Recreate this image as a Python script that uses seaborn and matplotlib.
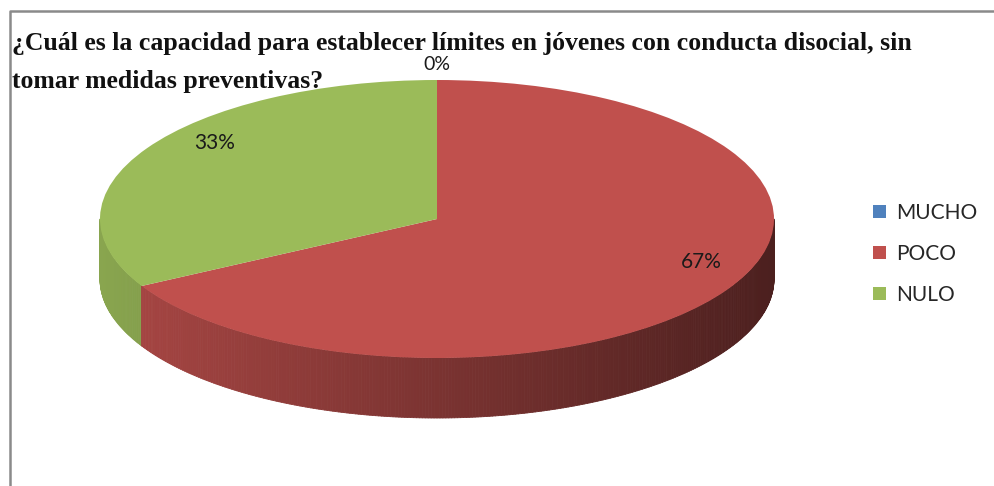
import numpy as np
import matplotlib
matplotlib.use("Agg")
import matplotlib.pyplot as plt
import matplotlib.colors as mcolors
from matplotlib.collections import PolyCollection
from matplotlib.lines import Line2D
import seaborn as sns

# ---- data ----
categories = ["MUCHO", "POCO", "NULO"]
percentages = [0, 67, 33]
slice_colors = ["#4F81BD", "#C0504D", "#9BBB59"]
title_lines = ["¿Cuál es la capacidad para establecer límites en jóvenes con conducta disocial, sin",
               "tomar medidas preventivas?"]

sns.set_theme(style="white")
plt.rcParams['font.family'] = ['Lato', 'DejaVu Sans']
palette = sns.color_palette(slice_colors)

W, H = 995, 486
fig = plt.figure(figsize=(W / 100, H / 100), dpi=100)
ax = fig.add_axes([0, 0, 1, 1])

# ellipse geometry (pixels)
cx, cy, rx, ry, depth = 437, 219, 337, 139, 60
d = depth / ry

# wedge angle spans (clockwise from 90)
total = sum(percentages)
spans = []
ang = 90.0
for p in percentages:
    a2 = ang - 360.0 * p / total
    spans.append((a2, ang))
    ang = a2

def wedge_index(t):
    for i, (a2, a1) in enumerate(spans):
        if a1 - a2 <= 0:
            continue
        if ((a1 - t) % 360.0) < (a1 - a2):
            return i
    return 0

# side of the 3D pie (front half)
ts = list(np.linspace(180, 360, 361))
for a2, a1 in spans:
    for a in (a2, a1):
        a = a % 360
        if 180 < a < 360:
            ts.append(a)
ts = np.array(sorted(set(ts)))
polys, fcs = [], []
for t1, t2 in zip(ts[:-1], ts[1:]):
    mid = np.radians((t1 + t2) / 2)
    idx = wedge_index(np.degrees(mid))
    f = 0.64 - 0.245 * np.cos(mid)
    base = np.array(mcolors.to_rgb(palette[idx]))
    r1, r2 = np.radians(t1), np.radians(t2)
    polys.append([(np.cos(r1), np.sin(r1)), (np.cos(r2), np.sin(r2)),
                  (np.cos(r2), np.sin(r2) - d), (np.cos(r1), np.sin(r1) - d)])
    fcs.append(np.clip(base * f, 0, 1))
side = PolyCollection(polys, facecolors=fcs, edgecolors=fcs, linewidths=0.6, zorder=1)
ax.add_collection(side)

# top face
wedges, texts, autotexts = ax.pie(
    percentages, colors=palette, startangle=90, counterclock=False,
    radius=1, center=(0, 0), autopct=lambda p: f"{p:.0f}%", pctdistance=0.84,
    wedgeprops=dict(linewidth=0), textprops=dict(fontsize=15, color="#1a1a1a"))
for p, at in zip(percentages, autotexts):
    x, y = at.get_position()
    if p == 0:
        at.set_position((x * 1.11 / 0.84, y * 1.11 / 0.84))
        at.set_fontsize(14)
    else:
        # mimic the perspective of the original 3D view
        at.set_position((x * (1 - 0.2 * y), y + 0.12))

ax.set_xlim(-cx / rx, (W - cx) / rx)
ax.set_ylim((cy - H) / ry, cy / ry)
ax.set_aspect('auto')
ax.axis('off')

# legend
ax.legend(wedges, categories, loc='center left',
          bbox_to_anchor=(863 / W, 1 - 254 / H), bbox_transform=fig.transFigure,
          frameon=False, fontsize=15, handlelength=0.6, handleheight=0.6,
          handletextpad=0.5, labelspacing=1.0, borderpad=0)

# title
fig.text(12 / W, 1 - 50 / H, title_lines[0], fontfamily='Liberation Serif',
         fontweight='bold', fontsize=18.5, va='baseline', ha='left', color='#111')
fig.text(12 / W, 1 - 88 / H, title_lines[1], fontfamily='Liberation Serif',
         fontweight='bold', fontsize=18.5, va='baseline', ha='left', color='#111')

# chart frame (left and top edges)
fig.add_artist(Line2D([10 / W, 10 / W, 1.0], [0.0, 1 - 11 / H, 1 - 11 / H],
                      transform=fig.transFigure, color='#8a8a8a', linewidth=1.8))

fig.savefig("out.png", dpi=100)
